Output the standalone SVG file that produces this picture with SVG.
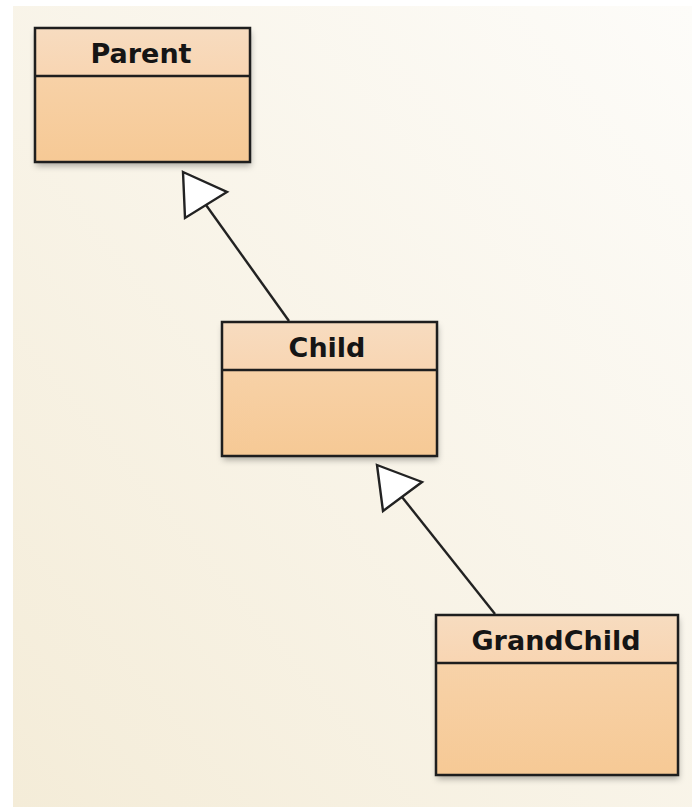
<svg xmlns="http://www.w3.org/2000/svg" width="692" height="807" viewBox="0 0 692 807">
<defs>
<linearGradient id="bg" x1="1" y1="0" x2="0" y2="1">
<stop offset="0" stop-color="#fdfcf9"/>
<stop offset="1" stop-color="#f4ecd8"/>
</linearGradient>
<linearGradient id="head" x1="0" y1="0" x2="0" y2="1">
<stop offset="0" stop-color="#f7dcc0"/>
<stop offset="1" stop-color="#f8d5b2"/>
</linearGradient>
<linearGradient id="body" x1="0" y1="0" x2="0" y2="1">
<stop offset="0" stop-color="#f8d6b1"/>
<stop offset="1" stop-color="#f6c995"/>
</linearGradient>
<filter id="sh" x="-10%" y="-10%" width="125%" height="130%">
<feDropShadow dx="1" dy="4" stdDeviation="3" flood-color="#000" flood-opacity="0.3"/>
</filter>
<style>
.box{stroke:#1e1e1e;stroke-width:2.5}
.hd{fill:url(#head)}
.bd{fill:url(#body)}
.ln{stroke:#1e1e1e;stroke-width:2.5;fill:none}
.lbl{font-family:"DejaVu Sans",sans-serif;font-weight:bold;font-size:27px;fill:#151515;text-anchor:middle}
.conn{stroke:#222;stroke-width:2.4;fill:none}
.tri{stroke:#222;stroke-width:2.4;fill:#fff;stroke-linejoin:miter}
</style>
</defs>
<rect x="0" y="0" width="692" height="807" fill="#ffffff"/>
<rect x="13" y="6" width="679" height="801" fill="url(#bg)"/>

<g id="connectors">
<line class="conn" x1="289" y1="321" x2="206" y2="205"/>
<polygon class="tri" points="183,172 227,192 185,218"/>
<line class="conn" x1="495" y1="614" x2="402" y2="497"/>
<polygon class="tri" points="377,465 422,482 383,511"/>
</g>

<g id="Parent">
<g filter="url(#sh)">
<rect class="bd" x="35" y="28" width="215" height="134"/>
</g>
<rect class="hd" x="35" y="28" width="215" height="48"/>
<rect class="box" x="35" y="28" width="215" height="134" fill="none"/>
<line class="ln" x1="35" y1="76" x2="250" y2="76"/>
<text class="lbl" x="141" y="63">Parent</text>
</g>

<g id="Child">
<g filter="url(#sh)">
<rect class="bd" x="222" y="322" width="215" height="134"/>
</g>
<rect class="hd" x="222" y="322" width="215" height="48"/>
<rect class="box" x="222" y="322" width="215" height="134" fill="none"/>
<line class="ln" x1="222" y1="370" x2="437" y2="370"/>
<text class="lbl" x="327" y="357">Child</text>
</g>

<g id="GrandChild">
<g filter="url(#sh)">
<rect class="bd" x="436" y="615" width="242" height="160"/>
</g>
<rect class="hd" x="436" y="615" width="242" height="48"/>
<rect class="box" x="436" y="615" width="242" height="160" fill="none"/>
<line class="ln" x1="436" y1="663" x2="678" y2="663"/>
<text class="lbl" x="556" y="650">GrandChild</text>
</g>
</svg>
